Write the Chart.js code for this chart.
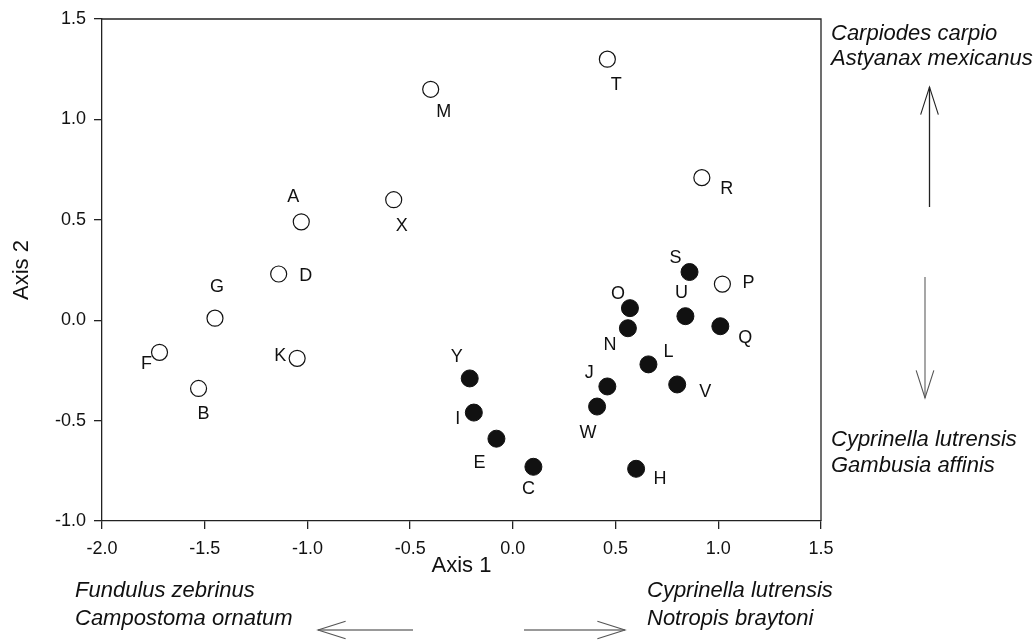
<!DOCTYPE html>
<html>
<head>
<meta charset="utf-8">
<script src="https://cdn.jsdelivr.net/npm/chart.js@4/dist/chart.umd.min.js"></script>
<style>
  html, body { margin: 0; padding: 0; background: #fff; }
  #wrap { width: 1035px; height: 641px; }
</style>
</head>
<body>
<div id="wrap"><canvas id="c" width="1035" height="641"></canvas></div>
<script>
// ---- Data ----
const openLabels = ['T', 'M', 'R', 'X', 'A', 'D', 'G', 'P', 'F', 'K', 'B'];
const openX      = [0.46, -0.40, 0.92, -0.58, -1.03, -1.14, -1.45, 1.02, -1.72, -1.05, -1.53];
const openY      = [1.30, 1.15, 0.71, 0.60, 0.49, 0.23, 0.01, 0.18, -0.16, -0.19, -0.34];

const filledLabels = ['S', 'O', 'N', 'U', 'Q', 'L', 'V', 'J', 'W', 'Y', 'I', 'E', 'C', 'H'];
const filledX      = [0.86, 0.57, 0.56, 0.84, 1.01, 0.66, 0.80, 0.46, 0.41, -0.21, -0.19, -0.08, 0.10, 0.60];
const filledY      = [0.24, 0.06, -0.04, 0.02, -0.03, -0.22, -0.32, -0.33, -0.43, -0.29, -0.46, -0.59, -0.73, -0.74];

const xTicks = [-2.0, -1.5, -1.0, -0.5, 0.0, 0.5, 1.0, 1.5];
const yTicks = [-1.0, -0.5, 0.0, 0.5, 1.0, 1.5];

const xTitle = 'Axis 1';
const yTitle = 'Axis 2';
const upSpecies    = ['Carpiodes carpio', 'Astyanax mexicanus'];
const downSpecies  = ['Cyprinella lutrensis', 'Gambusia affinis'];
const leftSpecies  = ['Fundulus zebrinus', 'Campostoma ornatum'];
const rightSpecies = ['Cyprinella lutrensis', 'Notropis braytoni'];

// ---- Styling (label placement relative to each marker, in px) ----
const FONT = '"Liberation Sans", Arial, Helvetica, sans-serif';
const labelOffsets = {
  T: [9, 26], M: [13, 23], R: [25, 11], X: [8, 26], A: [-8, -25], D: [27, 2],
  G: [2, -31], P: [26, -1], F: [-13, 12], K: [-17, -2], B: [5, 26],
  S: [-14, -14], O: [-12, -14], N: [-18, 17], U: [-4, -23], Q: [25, 12],
  L: [20, -12], V: [28, 8], J: [-18, -13], W: [-9, 26], Y: [-13, -21],
  I: [-16, 6], E: [-17, 24], C: [-5, 22], H: [24, 10]
};

function toPoints(xs, ys) { return xs.map((x, i) => ({ x: x, y: ys[i] })); }

const pointLabelPlugin = {
  id: 'pointLabels',
  afterDatasetsDraw(chart) {
    const ctx = chart.ctx;
    ctx.save();
    ctx.fillStyle = '#111';
    ctx.font = '18px ' + FONT;
    ctx.textAlign = 'center';
    ctx.textBaseline = 'middle';
    chart.data.datasets.forEach((ds, di) => {
      const meta = chart.getDatasetMeta(di);
      meta.data.forEach((el, i) => {
        const name = ds.pointNames[i];
        const off = labelOffsets[name] || [0, -20];
        ctx.fillText(name, el.x + off[0], el.y + off[1]);
      });
    });
    ctx.restore();
  }
};

function arrow(ctx, x1, y1, x2, y2, shaftColor, headColor) {
  ctx.strokeStyle = shaftColor;
  ctx.lineWidth = 1.3;
  ctx.beginPath(); ctx.moveTo(x1, y1); ctx.lineTo(x2, y2); ctx.stroke();
  const ang = Math.atan2(y2 - y1, x2 - x1);
  const len = 29, spread = 0.31;
  ctx.strokeStyle = headColor;
  ctx.lineWidth = 1.1;
  ctx.beginPath();
  ctx.moveTo(x2 - len * Math.cos(ang - spread), y2 - len * Math.sin(ang - spread));
  ctx.lineTo(x2, y2);
  ctx.lineTo(x2 - len * Math.cos(ang + spread), y2 - len * Math.sin(ang + spread));
  ctx.stroke();
}

const framePlugin = {
  id: 'frameAndNotes',
  beforeDatasetsDraw(chart) {
    const { ctx, chartArea: a } = chart;
    ctx.save();
    ctx.strokeStyle = '#222';
    ctx.lineWidth = 1.3;
    ctx.beginPath();
    ctx.moveTo(a.left, a.top); ctx.lineTo(a.right, a.top); ctx.lineTo(a.right, a.bottom);
    ctx.stroke();
    ctx.restore();
  },
  afterDraw(chart) {
    const { ctx, chartArea: a } = chart;
    ctx.save();
    ctx.fillStyle = '#111';
    ctx.font = 'italic 22px ' + FONT;
    ctx.textBaseline = 'middle';
    ctx.textAlign = 'left';
    const rx = a.right + 10;
    ctx.fillText(upSpecies[0], rx, 34);
    ctx.fillText(upSpecies[1], rx, 59);
    ctx.fillText(downSpecies[0], rx, 440);
    ctx.fillText(downSpecies[1], rx, 466);
    ctx.fillText(leftSpecies[0], 75, 591);
    ctx.fillText(leftSpecies[1], 75, 619);
    ctx.fillText(rightSpecies[0], 647, 591);
    ctx.fillText(rightSpecies[1], 647, 619);
    arrow(ctx, 929.5, 207, 929.5, 87, '#222', '#222');
    arrow(ctx, 925, 277, 925, 398, '#777', '#555');
    arrow(ctx, 413, 630, 318, 630, '#777', '#555');
    arrow(ctx, 524, 630, 625, 630, '#777', '#555');
    ctx.restore();
  }
};

const tickFmt = v => Number(v).toFixed(1);

new Chart(document.getElementById('c'), {
  type: 'scatter',
  data: {
    datasets: [
      {
        label: 'open',
        data: toPoints(openX, openY),
        pointNames: openLabels,
        pointStyle: 'circle',
        pointRadius: 8,
        pointHoverRadius: 8,
        backgroundColor: '#fff',
        borderColor: '#111',
        borderWidth: 1.2
      },
      {
        label: 'filled',
        data: toPoints(filledX, filledY),
        pointNames: filledLabels,
        pointStyle: 'circle',
        pointRadius: 8.5,
        pointHoverRadius: 8.5,
        backgroundColor: '#111',
        borderColor: '#111',
        borderWidth: 1
      }
    ]
  },
  options: {
    responsive: false,
    animation: false,
    devicePixelRatio: 1,
    layout: { padding: { top: 19, right: 214, left: 0, bottom: 0 } },
    plugins: { legend: { display: false }, tooltip: { enabled: false } },
    scales: {
      x: {
        type: 'linear',
        min: xTicks[0], max: xTicks[xTicks.length - 1],
        afterBuildTicks: s => { s.ticks = xTicks.map(v => ({ value: v })); },
        afterFit: s => { s.height = 120; },
        ticks: { callback: tickFmt, color: '#111', font: { size: 18, family: FONT }, padding: 9, maxRotation: 0 },
        grid: { display: true, drawOnChartArea: false, drawTicks: true, tickLength: 8, color: '#222', lineWidth: 1.3 },
        border: { display: true, color: '#222', width: 1.3 },
        title: { display: true, text: xTitle, color: '#111', font: { size: 22, family: FONT }, padding: { top: 0, bottom: 62 } }
      },
      y: {
        type: 'linear',
        min: yTicks[0], max: yTicks[yTicks.length - 1],
        afterBuildTicks: s => { s.ticks = yTicks.map(v => ({ value: v })); },
        afterFit: s => { s.width = 102; },
        ticks: { callback: tickFmt, color: '#111', font: { size: 18, family: FONT }, padding: 8 },
        grid: { display: true, drawOnChartArea: false, drawTicks: true, tickLength: 8, color: '#222', lineWidth: 1.3 },
        border: { display: true, color: '#222', width: 1.3 },
        title: { display: true, text: yTitle, color: '#111', font: { size: 22, family: FONT }, padding: { top: 9, bottom: 0 } }
      }
    }
  },
  plugins: [framePlugin, pointLabelPlugin]
});
</script>
</body>
</html>
